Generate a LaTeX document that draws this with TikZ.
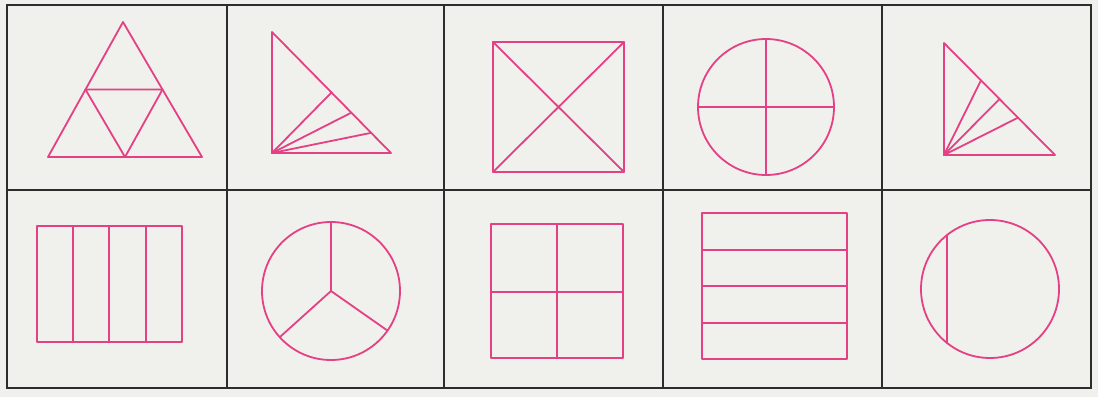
\documentclass[tikz,border=0pt]{standalone}
\usetikzlibrary{calc}
\definecolor{paper}{RGB}{240,240,237}
\definecolor{ink}{RGB}{228,64,132}
\definecolor{gridcol}{RGB}{45,45,45}
\tikzset{
  fig/.style={draw=ink, line width=1.8pt, line join=round, line cap=round},
  gridline/.style={draw=gridcol, line width=1.8pt}
}
\begin{document}
\begin{tikzpicture}[x=1pt,y=-1pt]
\fill[paper] (0,0) rectangle (1098,397);
\useasboundingbox (0,0) rectangle (1098,397);
% grid
\draw[gridline] (7,5) rectangle (1091,388);
\foreach \gx in {227,444,663,882} {\draw[gridline] (\gx,5) -- (\gx,388);}
\draw[gridline] (7,190) -- (1091,190);
% cell 1: triangle split into four
\coordinate (t1a) at (123,22);
\coordinate (t1b) at (48,157);
\coordinate (t1c) at (202,157);
\draw[fig] (t1a) -- (t1c) -- (t1b) -- cycle;
\draw[fig] ($(t1a)!0.5!(t1b)$) -- ($(t1a)!0.5!(t1c)$) -- ($(t1b)!0.5!(t1c)$) -- cycle;
% cell 2: right triangle with fan
\coordinate (t2a) at (272,32);
\coordinate (t2b) at (272,153);
\coordinate (t2c) at (391,153);
\draw[fig] (t2a) -- (t2b) -- (t2c) -- cycle;
\foreach \t in {0.5,0.6667,0.8333} {\draw[fig] (t2b) -- ($(t2a)!\t!(t2c)$);}
% cell 3: square with diagonals
\coordinate (s3a) at (493,42);
\coordinate (s3b) at (624,172);
\draw[fig] (s3a) rectangle (s3b);
\draw[fig] (s3a) -- (s3b);
\draw[fig] (s3a -| s3b) -- (s3b -| s3a);
% cell 4: circle in quarters
\coordinate (c4) at (766,107);
\draw[fig] (c4) circle [radius=68pt];
\draw[fig] (698,107) -- (834,107);
\draw[fig] (766,39) -- (766,175);
% cell 5: right triangle with fan
\coordinate (t5a) at (944,43);
\coordinate (t5b) at (944,155);
\coordinate (t5c) at (1055,155);
\draw[fig] (t5a) -- (t5b) -- (t5c) -- cycle;
\foreach \t in {0.3333,0.5,0.6667} {\draw[fig] (t5b) -- ($(t5a)!\t!(t5c)$);}
% cell 6: rectangle in vertical strips
\draw[fig] (37,226) rectangle (182,342);
\foreach \vx in {73,109,146} {\draw[fig] (\vx,226) -- (\vx,342);}
% cell 7: circle with three spokes
\coordinate (c7) at (331,291);
\draw[fig] (c7) circle [radius=69pt];
\draw[fig] (c7) -- (331,222);
\draw[fig] (c7) -- (279.7,337.2);
\draw[fig] (c7) -- (387.5,330.6);
% cell 8: square in quarters
\draw[fig] (491,224) rectangle (623,358);
\draw[fig] (557,224) -- (557,358);
\draw[fig] (491,292) -- (623,292);
% cell 9: rectangle in horizontal strips
\draw[fig] (702,213) rectangle (847,359);
\foreach \hy in {250,286,323} {\draw[fig] (702,\hy) -- (847,\hy);}
% cell 10: circle with chord
\coordinate (c10) at (990,289);
\draw[fig] (c10) circle [radius=69pt];
\draw[fig] (947,235) -- (947,343);
\end{tikzpicture}
\end{document}
